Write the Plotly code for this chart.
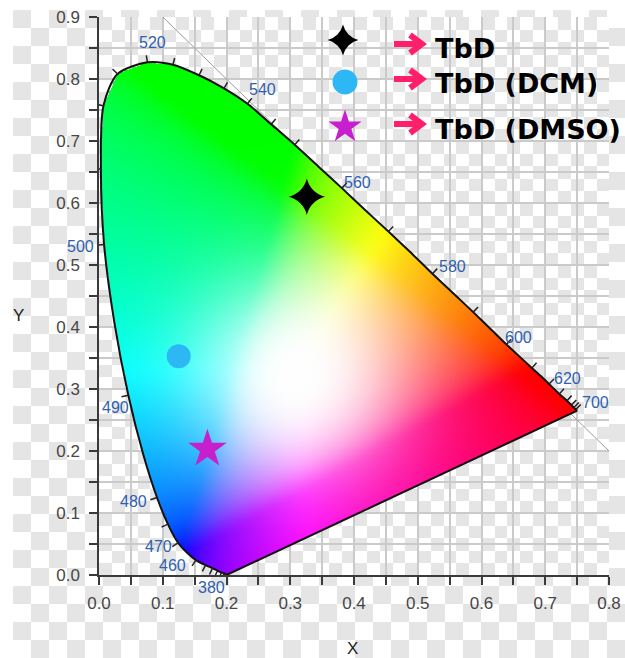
import base64
import struct
import zlib

import numpy as np
import plotly.graph_objects as go

# ---------------- data ----------------
wavelengths = [380, 390, 400, 410, 420, 430, 440, 450, 460, 465, 470, 475, 480, 485, 490, 495,
               500, 505, 510, 515, 520, 525, 530, 535, 540, 545, 550, 555, 560, 565, 570, 575,
               580, 585, 590, 595, 600, 605, 610, 615, 620, 625, 630, 640, 650, 660, 680, 700]
locus_x = [0.200, 0.199, 0.198, 0.196, 0.192, 0.186, 0.178, 0.167, 0.152, 0.139, 0.124, 0.108, 0.091, 0.069, 0.046, 0.024,
           0.008, 0.003, 0.007, 0.029, 0.076, 0.116, 0.157, 0.196, 0.233, 0.270, 0.307, 0.344, 0.381, 0.417, 0.454, 0.489,
           0.523, 0.556, 0.587, 0.615, 0.639, 0.661, 0.679, 0.694, 0.706, 0.715, 0.722, 0.734, 0.741, 0.745, 0.748, 0.750]
locus_y = [0.000, 0.001, 0.002, 0.003, 0.004, 0.007, 0.011, 0.016, 0.024, 0.035, 0.052, 0.082, 0.125, 0.196, 0.290, 0.408,
           0.533, 0.655, 0.757, 0.808, 0.827, 0.823, 0.806, 0.785, 0.760, 0.727, 0.694, 0.659, 0.624, 0.589, 0.554, 0.520,
           0.486, 0.454, 0.424, 0.396, 0.372, 0.351, 0.334, 0.320, 0.308, 0.299, 0.292, 0.281, 0.274, 0.270, 0.267, 0.265]
tick_wl = [380, 390, 400, 410, 420, 430, 440, 450, 460, 470, 475, 480, 490, 500, 505, 510, 515, 520, 525, 530,
           535, 540, 545, 550, 560, 570, 580, 590, 600, 610, 620, 630, 640, 650, 660, 680]
label_wl = [380, 460, 470, 480, 490, 500, 520, 540, 560, 580, 600, 620, 700]

samples = ["TbD", "TbD (DCM)", "TbD (DMSO)"]
sample_x = [0.326, 0.125, 0.170]
sample_y = [0.610, 0.353, 0.203]

x_ticks = [0.0, 0.1, 0.2, 0.3, 0.4, 0.5, 0.6, 0.7, 0.8]
y_ticks = [0.0, 0.1, 0.2, 0.3, 0.4, 0.5, 0.6, 0.7, 0.8, 0.9]

# ---------------- layout geometry / styles ----------------
W, H = 625, 658
L, R, T, B = 99, 16, 17, 83
PW, PH = W - L - R, H - T - B
XMAX, YMAX = 0.8, 0.9
SX, SY = PW / XMAX, PH / YMAX

label_shift = {380: (-15, -12), 460: (-23, -5), 470: (-20, -4), 480: (-24, -4), 490: (-13, -12),
               500: (-24, -2), 520: (5, 20), 540: (15, 14), 560: (16, 6), 580: (20, 7),
               600: (12, 7), 620: (18, 6), 700: (18, 8)}
marker_styles = [
    dict(symbol="star-diamond", color="#000000", size=26, legend_size=22),
    dict(symbol="circle", color="#2db7f5", size=24, legend_size=25),
    dict(symbol="star", color="#c81fce", size=29, legend_size=25),
]
legend_rows_px = [(343, 40, 44, 48), (345, 82, 79, 84), (345, 127, 124, 129)]  # marker x,y ; arrow y ; text y
WHITE_XY = (0.31, 0.32)


def px2data(px, py):
    return (px - L) / SX, (H - B - py) / SY


def px2paper(px, py):
    return (px - L) / PW, 1 - (py - T) / PH


def png_uri(rgba):
    h, w, _ = rgba.shape
    raw = b"".join(b"\x00" + rgba[i].tobytes() for i in range(h))

    def chunk(tag, data):
        c = struct.pack(">I", len(data)) + tag + data
        return c + struct.pack(">I", zlib.crc32(tag + data) & 0xFFFFFFFF)

    png = (b"\x89PNG\r\n\x1a\n"
           + chunk(b"IHDR", struct.pack(">IIBBBBB", w, h, 8, 6, 0, 0, 0))
           + chunk(b"IDAT", zlib.compress(raw, 9))
           + chunk(b"IEND", b""))
    return "data:image/png;base64," + base64.b64encode(png).decode()


def box_blur(a, r, axis):
    pad = [(0, 0)] * a.ndim
    pad[axis] = (r + 1, r)
    ap = np.pad(a, pad, mode="edge")
    c = np.cumsum(ap, axis=axis)
    n = a.shape[axis]
    hi = np.take(c, np.arange(2 * r + 1, 2 * r + 1 + n), axis=axis)
    lo = np.take(c, np.arange(0, n), axis=axis)
    return (hi - lo) / (2 * r + 1)


# ---------------- checkerboard background (transparency pattern) ----------------
yy, xx = np.mgrid[0:H, 0:W]
bg = np.full((H, W, 4), 255, dtype=np.uint8)
outer = ((((xx - 13) // 18) + ((yy - 10) // 18)) % 2 == 0) & (xx >= 13) & (yy >= 10)
inner_region = (xx >= L) & (xx < W - R) & (yy >= T) & (yy < H - B)
inner = ((((xx - L) / (SX * 0.05 / 2.5)).astype(int) + ((yy - T) / (SY * 0.05 / 2.5)).astype(int)) % 2 == 0)
grey = np.where(inner_region, inner, outer)
bg[grey, 0:3] = 229
bg_uri = png_uri(bg)

# ---------------- chromaticity fill ----------------
step = 0.00125
nx, ny = int(round(XMAX / step)), int(round(YMAX / step))
gx = (np.arange(nx) + 0.5) * step
gy = (np.arange(ny) + 0.5) * step
PX, PY = np.meshgrid(gx, gy)

poly = list(zip(locus_x, locus_y))
inside = np.zeros(PX.shape, dtype=bool)
for i in range(len(poly)):
    x1, y1 = poly[i]
    x2, y2 = poly[(i + 1) % len(poly)]
    cond = (y1 > PY) != (y2 > PY)
    xint = (x2 - x1) * (PY - y1) / ((y2 - y1) if y2 != y1 else 1e-12) + x1
    inside ^= cond & (PX < xint)

yc = np.maximum(PY, 1e-4)
Xc = PX / yc
Zc = (1 - PX - PY) / yc
Mx = np.array([[3.2406, -1.5372, -0.4986], [-0.9689, 1.8758, 0.0415], [0.0557, -0.2040, 1.0570]])
rgb = np.stack([Mx[k, 0] * Xc + Mx[k, 1] + Mx[k, 2] * Zc for k in range(3)], axis=-1)
rgb = np.clip(rgb, 0, None)
rgb = rgb / (rgb.max(axis=-1, keepdims=True) + 1e-9)
for _ in range(3):
    rgb = box_blur(rgb, 9, 0)
    rgb = box_blur(rgb, 9, 1)
rgb = np.where(rgb <= 0.0031308, 12.92 * rgb, 1.055 * np.power(np.clip(rgb, 0, 1), 1 / 2.4) - 0.055)
dist2 = ((PX - WHITE_XY[0]) ** 2 + (PY - WHITE_XY[1]) ** 2)
wmix = np.exp(-dist2 / 0.16 ** 2)[..., None]
rgb = rgb * (1 - wmix) + wmix
fill = np.zeros((ny, nx, 4), dtype=np.uint8)
fill[..., 0:3] = np.clip(rgb * 255, 0, 255).astype(np.uint8)
fill[..., 3] = np.where(inside, 255, 0).astype(np.uint8)
fill_uri = png_uri(fill)

# ---------------- figure ----------------
fig = go.Figure()

fig.add_trace(go.Image(source=fill_uri, x0=step / 2, dx=step, y0=step / 2, dy=step, hoverinfo="skip"))

# spectral locus outline + purple line
fig.add_trace(go.Scatter(x=locus_x, y=locus_y, mode="lines", line=dict(color="#111111", width=2, shape="spline", smoothing=0.8),
                         hoverinfo="skip"))
fig.add_trace(go.Scatter(x=[locus_x[-1], locus_x[0]], y=[locus_y[-1], locus_y[0]], mode="lines",
                         line=dict(color="#111111", width=2), hoverinfo="skip"))

# wavelength ticks on locus
tx, ty = [], []
TLEN = 7
for wl in tick_wl:
    i = wavelengths.index(wl)
    a = max(i - 1, 0)
    b = min(i + 1, len(wavelengths) - 1)
    dxp = (locus_x[b] - locus_x[a]) * SX
    dyp = (locus_y[b] - locus_y[a]) * SY
    n = np.hypot(dxp, dyp)
    nxp, nyp = -dyp / n, dxp / n
    tx += [locus_x[i], locus_x[i] + nxp * TLEN / SX, None]
    ty += [locus_y[i], locus_y[i] + nyp * TLEN / SY, None]
fig.add_trace(go.Scatter(x=tx, y=ty, mode="lines", line=dict(color="#222222", width=1.5), hoverinfo="skip",
                         cliponaxis=False))

# sample points
for k, name in enumerate(samples):
    st = marker_styles[k]
    fig.add_trace(go.Scatter(x=[sample_x[k]], y=[sample_y[k]], mode="markers", name=name,
                             marker=dict(symbol=st["symbol"], color=st["color"], size=st["size"], line=dict(width=0))))

# custom legend
annotations = []
shapes = []
for k, name in enumerate(samples):
    st = marker_styles[k]
    mx, my, ay, tyy = legend_rows_px[k]
    lx, ly = px2data(mx, my)
    fig.add_trace(go.Scatter(x=[lx], y=[ly], mode="markers", cliponaxis=False, hoverinfo="skip",
                             marker=dict(symbol=st["symbol"], color=st["color"], size=st["legend_size"], line=dict(width=0))))
    p = [px2paper(394, ay), px2paper(420, ay), px2paper(410, ay - 9), px2paper(422, ay), px2paper(410, ay + 9)]
    path = "M{0},{1} L{2},{3} M{4},{5} L{6},{7} L{8},{9}".format(p[0][0], p[0][1], p[1][0], p[1][1],
                                                                  p[2][0], p[2][1], p[3][0], p[3][1], p[4][0], p[4][1])
    shapes.append(dict(type="path", xref="paper", yref="paper", path=path,
                       line=dict(color="#ff1f6a", width=6), layer="above"))
    tx0, ty0 = px2paper(433, tyy)
    annotations.append(dict(x=tx0, y=ty0, xref="paper", yref="paper", text="<b>" + name + "</b>", showarrow=False,
                            xanchor="left", yanchor="middle",
                            font=dict(family="DejaVu Sans, sans-serif", size=27, color="#000000")))

# wavelength labels
for wl in label_wl:
    i = wavelengths.index(wl)
    sx, sy = label_shift[wl]
    annotations.append(dict(x=locus_x[i], y=locus_y[i], xref="x", yref="y", text=str(wl), showarrow=False,
                            xshift=sx, yshift=sy, xanchor="center", yanchor="middle",
                            font=dict(family="Liberation Sans, Arial, sans-serif", size=16, color="#2f5fb0")))

# axis titles
ax_x, ax_y = px2paper(352, 648)
annotations.append(dict(x=ax_x, y=ax_y, xref="paper", yref="paper", text="X", showarrow=False,
                        xanchor="center", yanchor="middle",
                        font=dict(family="Liberation Sans, Arial", size=17, color="#222222")))
ay_x, ay_y = px2paper(18, 315)
annotations.append(dict(x=ay_x, y=ay_y, xref="paper", yref="paper", text="Y", showarrow=False,
                        xanchor="center", yanchor="middle",
                        font=dict(family="Liberation Sans, Arial", size=17, color="#222222")))

# x + y = 1 reference line
shapes.append(dict(type="line", xref="x", yref="y", x0=0.1, y0=0.9, x1=0.8, y1=0.2,
                   line=dict(color="#9c9c9c", width=1), layer="between"))

axis_common = dict(
    ticks="outside", ticklen=8, tickwidth=1.5, tickcolor="#3a3a3a",
    showline=True, linecolor="#3a3a3a", linewidth=1.5,
    showgrid=True, gridcolor="#cacaca", gridwidth=1.5, zeroline=False,
    tickformat=".1f", ticklabeloverflow="allow",
    tickfont=dict(family="Liberation Sans, Arial, sans-serif", size=17, color="#474747"),
    minor=dict(dtick=0.05, tick0=0, ticks="outside", ticklen=8, tickwidth=1.5, tickcolor="#3a3a3a",
               showgrid=True, gridcolor="#cacaca", gridwidth=1.5),
    fixedrange=True,
)

fig.update_layout(
    width=W, height=H,
    margin=dict(l=L, r=R, t=T, b=B, autoexpand=False),
    paper_bgcolor="white", plot_bgcolor="rgba(0,0,0,0)",
    showlegend=False,
    xaxis=dict(range=[0, XMAX], autorange=False, tickvals=x_ticks, constrain="range", ticklabelstandoff=4,
               **axis_common),
    yaxis=dict(range=[0, YMAX], autorange=False, tickvals=y_ticks, scaleanchor=False, ticklabelstandoff=6,
               **axis_common),
    annotations=annotations,
    shapes=shapes,
    images=[dict(source=bg_uri, xref="paper", yref="paper", x=-L / PW, y=1 + T / PH,
                 sizex=W / PW, sizey=H / PH, sizing="stretch", xanchor="left", yanchor="top", layer="below")],
)

fig.write_html("out.html", config={"displayModeBar": False},
               post_script="document.body.style.margin='0px';document.body.style.overflow='hidden';")
